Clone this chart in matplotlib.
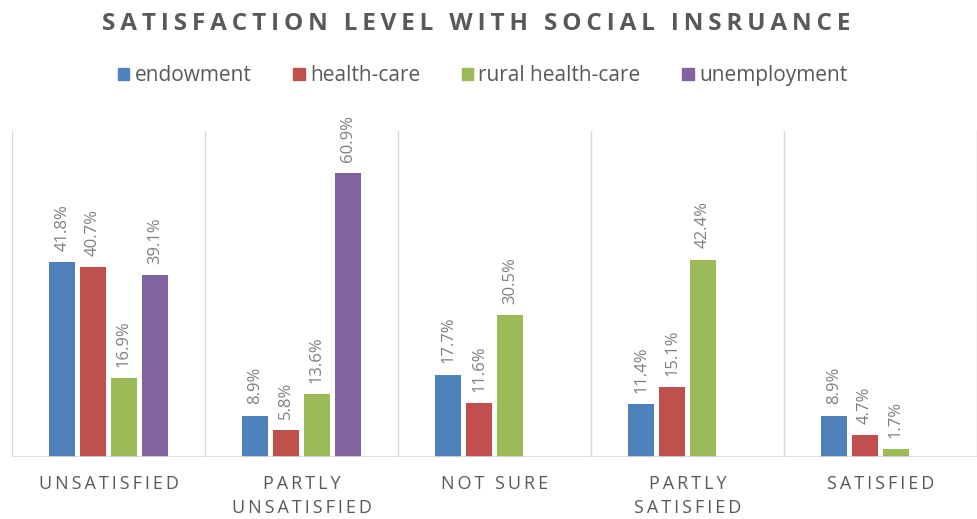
import matplotlib
matplotlib.use("Agg")
import matplotlib.pyplot as plt
import numpy as np
from matplotlib.patches import Patch

plt.rcParams['font.family'] = ['Open Sans', 'DejaVu Sans']

categories = ["UNSATISFIED", "PARTLY\nUNSATISFIED", "NOT SURE", "PARTLY\nSATISFIED", "SATISFIED"]
series_names = ["endowment", "health-care", "rural health-care", "unemployment"]
endowment = [41.8, 8.9, 17.7, 11.4, 8.9]
health_care = [40.7, 5.8, 11.6, 15.1, 4.7]
rural_health_care = [16.9, 13.6, 30.5, 42.4, 1.7]
unemployment = [39.1, 60.9, None, None, None]
colors = ["#4F81BD", "#C0504D", "#9BBB59", "#8064A2"]


def spaced(s, sep="\u200a"):
    # fake letter spacing
    return "\n".join(sep.join(line) for line in s.split("\n"))


fig = plt.figure(figsize=(9.77, 5.19), dpi=100)
ax = fig.add_axes([12 / 977, 62 / 519, 965 / 977, 326 / 519])

all_series = [endowment, health_care, rural_health_care, unemployment]
step = 0.16
width = 0.135
x = np.arange(len(categories))
for k, vals in enumerate(all_series):
    off = (k - 1.5) * step
    for i, v in enumerate(vals):
        if v is None:
            continue
        ax.bar(x[i] + off, v, width, color=colors[k], zorder=3)
        ax.annotate("%.1f%%" % v, (x[i] + off, v), xytext=(0, 8),
                    textcoords="offset points", rotation=90,
                    ha="center", va="bottom", fontsize=12, color="#7F7F7F")

ax.set_xlim(-0.5, len(categories) - 0.5)
ax.set_ylim(0, 70)
for b in np.arange(-0.5, len(categories), 1.0):
    ax.axvline(b, color="#D9D9D9", lw=1, zorder=1)
ax.axhline(0, color="#D9D9D9", lw=1.2, zorder=4)
for s in ax.spines.values():
    s.set_visible(False)
ax.set_xticks([])
ax.set_yticks([])

for i, c in enumerate(categories):
    ax.text(x[i], -0.055, spaced(c, "\u2009"), transform=ax.get_xaxis_transform(),
            ha="center", va="top", fontsize=13, color="#595959", linespacing=1.45)

fig.text(0.487, 0.953, spaced("SATISFACTION LEVEL WITH SOCIAL INSRUANCE", "\u2009"),
         ha="center", va="center", fontsize=17.5, fontweight="bold", color="#595959")

handles = [Patch(color=c) for c in colors]
fig.legend(handles, series_names, loc="center", bbox_to_anchor=(0.494, 0.854), ncol=4,
           frameon=False, fontsize=15, handlelength=0.55, handleheight=0.55,
           handletextpad=0.25, columnspacing=2.0, labelcolor="#595959")

fig.savefig("out.png", dpi=100)
